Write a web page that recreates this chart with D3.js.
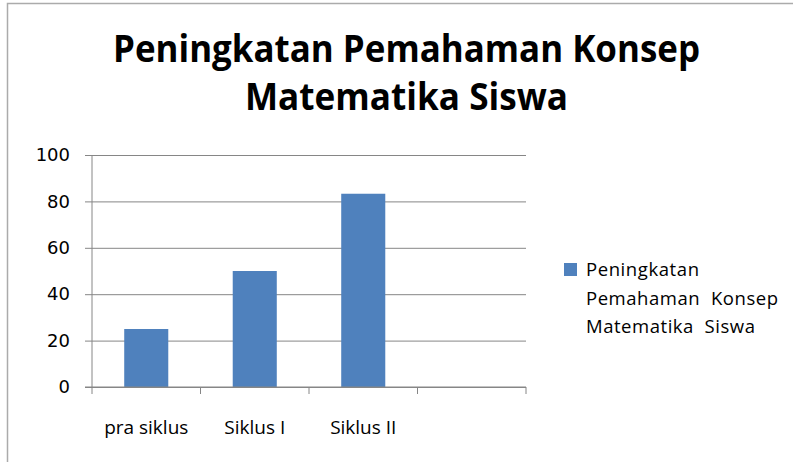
<!DOCTYPE html>
<html>
<head>
<meta charset="utf-8">
<script src="https://cdn.jsdelivr.net/npm/d3@7"></script>
<style>
  html, body { margin: 0; padding: 0; background: #fff; }
  svg { display: block; }
</style>
</head>
<body>
<div id="chart"></div>
<script>
// ---- data ----
const titleLines = ["Peningkatan Pemahaman Konsep", "Matematika Siswa"];
const categories = ["pra siklus", "Siklus I", "Siklus II", ""];
const values = [25, 50, 83.3, null];
const yTicks = [0, 20, 40, 60, 80, 100];
const legendLines = ["Peningkatan", "Pemahaman  Konsep", "Matematika  Siswa"];

// ---- layout ----
const W = 793, H = 462;
const plot = { left: 92, right: 526, top: 155, bottom: 387 };
const barColor = "#4F81BD";
const gridColor = "#868686";

const svg = d3.select("#chart").append("svg")
  .attr("width", W).attr("height", H);

svg.append("rect").attr("width", W).attr("height", H).attr("fill", "#fff");

// outer frame
svg.append("rect")
  .attr("x", 7.5).attr("y", 3.5)
  .attr("width", W + 20).attr("height", H + 20)
  .attr("fill", "none").attr("stroke", "#ababab").attr("stroke-width", 1.5);

// title
const titleFont = "'Liberation Sans Narrow', 'Open Sans', sans-serif";
const titleY = [62, 110];
const titleLens = [587, 323];
titleLines.forEach((t, i) => {
  svg.append("text")
    .attr("x", (i === 0 ? 113 : 245)).attr("y", titleY[i])
    .attr("textLength", titleLens[i])
    .attr("lengthAdjust", "spacingAndGlyphs")
    .attr("font-family", titleFont)
    .attr("font-weight", "bold")
    .attr("font-size", 37)
    .attr("fill", "#000")
    .text(t);
});

// scales
const x = d3.scaleBand()
  .domain(categories)
  .range([plot.left, plot.right])
  .paddingInner(0.594)
  .paddingOuter(0.297);

const y = d3.scaleLinear().domain([0, 100]).range([plot.bottom, plot.top]);

// gridlines + y axis
const yAxis = d3.axisLeft(y).tickValues(yTicks)
  .tickSize(-(plot.right - plot.left))
  .tickPadding(22)
  .tickFormat(d3.format("d"));

const gy = svg.append("g").attr("transform", `translate(${plot.left},0)`).call(yAxis);
gy.select(".domain").remove();
gy.selectAll(".tick line")
  .attr("x1", -7)
  .attr("stroke", gridColor).attr("stroke-width", 1);
gy.selectAll(".tick text")
  .attr("font-family", "'DejaVu Sans', sans-serif")
  .attr("font-size", 18)
  .attr("fill", "#000");

// y axis line
svg.append("line")
  .attr("x1", plot.left).attr("x2", plot.left)
  .attr("y1", plot.top).attr("y2", plot.bottom)
  .attr("stroke", gridColor).attr("stroke-width", 1);

// bars
svg.append("g").selectAll("rect")
  .data(categories.map((c, i) => ({ c, v: values[i] })).filter(d => d.v != null))
  .join("rect")
  .attr("x", d => x(d.c))
  .attr("width", x.bandwidth())
  .attr("y", d => y(d.v))
  .attr("height", d => y(0) - y(d.v))
  .attr("fill", barColor);

// x axis line and category boundary ticks
svg.append("line")
  .attr("x1", plot.left - 7).attr("x2", plot.right)
  .attr("y1", y(0)).attr("y2", y(0))
  .attr("stroke", gridColor).attr("stroke-width", 1);

const step = x.step();
const boundaries = d3.range(categories.length + 1).map(i => plot.left + i * step);
svg.append("g").selectAll("line")
  .data(boundaries)
  .join("line")
  .attr("x1", d => d).attr("x2", d => d)
  .attr("y1", y(0)).attr("y2", y(0) + 7)
  .attr("stroke", gridColor).attr("stroke-width", 1);

// category labels
svg.append("g").selectAll("text")
  .data(categories)
  .join("text")
  .attr("x", d => x(d) + x.bandwidth() / 2)
  .attr("y", 434)
  .attr("text-anchor", "middle")
  .attr("font-family", "'Open Sans', sans-serif")
  .attr("font-size", 19)
  .attr("fill", "#000")
  .text(d => d);

// legend
svg.append("rect")
  .attr("x", 564).attr("y", 263)
  .attr("width", 13).attr("height", 13)
  .attr("fill", barColor);
const legendY = [276, 305, 333];
const legendLens = [113, 192, 169];
legendLines.forEach((t, i) => {
  svg.append("text")
    .attr("x", 586).attr("y", legendY[i])
    .attr("font-family", "'Open Sans', sans-serif")
    .attr("font-size", 18.5)
    .attr("fill", "#000")
    .attr("textLength", legendLens[i])
    .attr("lengthAdjust", "spacing")
    .attr("xml:space", "preserve")
    .style("white-space", "pre")
    .text(t);
});
</script>
</body>
</html>
